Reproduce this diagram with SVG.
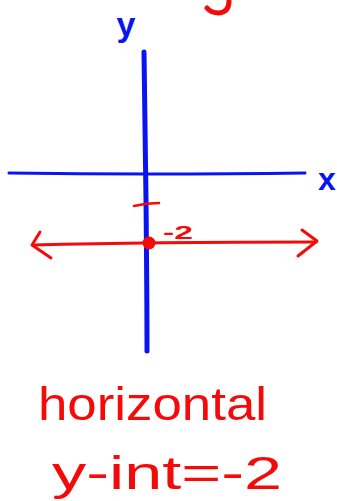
<svg xmlns="http://www.w3.org/2000/svg" width="337" height="501" viewBox="0 0 337 501">
<style>
.blue{stroke:#0a14f0;fill:none;stroke-linecap:round;stroke-linejoin:round}
.red{stroke:#f50a0a;fill:none;stroke-linecap:round;stroke-linejoin:round}
.tb{fill:#0a14f0;font-family:"Liberation Sans",Arial,sans-serif;font-weight:bold}
.tr{fill:#f50a0a;font-family:"Liberation Sans",Arial,sans-serif}
</style>
<rect width="337" height="501" fill="#ffffff"/>
<g id="fragment">
<path class="red" stroke-width="5" d="M229 1 Q229 12 219 13 Q211 13 207 8"/>
</g>
<g id="axes">
<path class="blue" stroke-width="5" d="M144 52 Q145 120 146 200 Q147 300 147 351"/>
<path class="blue" stroke-width="3" d="M9 173 Q80 174 150 174 Q230 174 305 173"/>
<text class="tb" x="126" y="36" font-size="34" text-anchor="middle">y</text>
<text class="tb" x="327" y="190" font-size="32" text-anchor="middle">x</text>
</g>
<g id="line">
<path class="red" stroke-width="2.5" d="M134 206 Q146 203 159 203"/>
<path class="red" stroke-width="3" d="M33 245 Q150 242 316 242"/>
<path class="red" stroke-width="3" d="M40 232 L32 245 L51 258"/>
<path class="red" stroke-width="3" d="M302 230 L317 241 L298 256"/>
<circle cx="149" cy="243" r="6.5" fill="#f50a0a"/>
<text class="tr" x="163" y="239" font-size="18" font-weight="bold" textLength="30" lengthAdjust="spacingAndGlyphs">-2</text>
</g>
<g id="labels">
<text class="tr" x="38" y="420" font-size="46" textLength="229" lengthAdjust="spacingAndGlyphs">horizontal</text>
<text class="tr" x="52" y="489" font-size="46" textLength="230" lengthAdjust="spacingAndGlyphs">y-int=-2</text>
</g>
</svg>
